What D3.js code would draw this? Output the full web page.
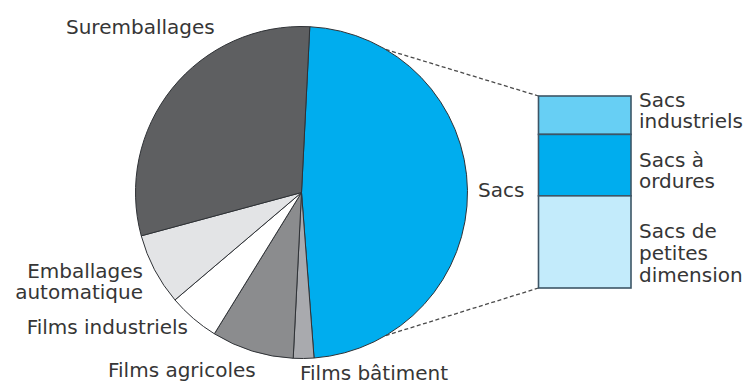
<!DOCTYPE html>
<html>
<head>
<meta charset="utf-8">
<script src="https://cdn.jsdelivr.net/npm/d3@7"></script>
<style>
  html, body { margin: 0; padding: 0; background: #fff; }
  svg { display: block; }
  text { font-family: "DejaVu Sans", sans-serif; font-size: 20px; fill: #363636; }
</style>
</head>
<body>
<svg id="chart" width="749" height="386"></svg>
<script>
// Plastic film uses (%), clockwise from the top
const categories = ["Sacs", "Films bâtiment", "Films agricoles", "Films industriels", "Emballages automatique", "Suremballages"];
const shares = [48, 2, 8, 5, 7, 30];
const sliceColors = ["#00adee", "#a9aaae", "#8b8c8e", "#ffffff", "#e3e4e6", "#5e5f61"];

// Breakdown of the "Sacs" slice (% of bags), top to bottom
const bagTypes = ["Sacs industriels", "Sacs à ordures", "Sacs de petites dimension"];
const bagShares = [20, 32, 48];
const bagColors = ["#67cff4", "#00adee", "#c3ebfb"];

const svg = d3.select("#chart");
const cx = 301.5, cy = 192.5, r = 166;
const start = 0.05; // small clockwise offset of the first slice

const pie = d3.pie().sort(null).value(d => d.v)
  .startAngle(start).endAngle(start + 2 * Math.PI);
const arc = d3.arc().innerRadius(0).outerRadius(r);
const data = categories.map((c, i) => ({ c, v: shares[i], col: sliceColors[i] }));

const g = svg.append("g").attr("transform", `translate(${cx},${cy})`);
g.selectAll("path").data(pie(data)).join("path")
  .attr("d", arc)
  .attr("fill", d => d.data.col)
  .attr("stroke", "#2f3236")
  .attr("stroke-width", 1)
  .attr("stroke-linejoin", "round");

// Stacked bar for the bag breakdown
const bx = 538.5, bw = 92.5;
const y = d3.scaleLinear().domain([0, d3.sum(bagShares)]).range([96, 288]);
let acc = 0;
const stack = bagTypes.map((t, i) => { const s = { t, y0: acc, y1: acc + bagShares[i], col: bagColors[i] }; acc += bagShares[i]; return s; });

// Dashed connectors from the pie edge to the bar
const pt = a => [cx + r * Math.sin(a), cy - r * Math.cos(a)];
const topPt = pt(30.5 * Math.PI / 180), botPt = pt(149.5 * Math.PI / 180);
[[topPt, y(0)], [botPt, y(acc)]].forEach(([p, yy]) => {
  svg.append("line").attr("x1", p[0]).attr("y1", p[1]).attr("x2", bx).attr("y2", yy)
    .attr("stroke", "#4a4a4a").attr("stroke-width", 1.3).attr("stroke-dasharray", "4,2.5");
});

svg.selectAll("rect.bag").data(stack).join("rect")
  .attr("class", "bag")
  .attr("x", bx).attr("width", bw)
  .attr("y", d => y(d.y0)).attr("height", d => y(d.y1) - y(d.y0))
  .attr("fill", d => d.col)
  .attr("stroke", "#3d5566").attr("stroke-width", 1.6);

// Labels
const lh = 21.8;
const labels = [
  { lines: ["Suremballages"], x: 66, y: 34, anchor: "start" },
  { lines: ["Sacs"], x: 478, y: 197, anchor: "start" },
  { lines: ["Emballages", "automatique"], x: 143, y: 277.5, anchor: "end" },
  { lines: ["Films industriels"], x: 188, y: 334, anchor: "end" },
  { lines: ["Films agricoles"], x: 108, y: 377, anchor: "start" },
  { lines: ["Films bâtiment"], x: 300, y: 380, anchor: "start" },
  { lines: ["Sacs", "industriels"], x: 639, y: 106.5, anchor: "start" },
  { lines: ["Sacs à", "ordures"], x: 639, y: 166.5, anchor: "start" },
  { lines: ["Sacs de", "petites", "dimension"], x: 639, y: 238, anchor: "start" }
];
labels.forEach(l => {
  const t = svg.append("text").attr("x", l.x).attr("y", l.y).attr("text-anchor", l.anchor);
  l.lines.forEach((s, i) => t.append("tspan").attr("x", l.x).attr("dy", i ? lh : 0).text(s));
});
</script>
</body>
</html>
